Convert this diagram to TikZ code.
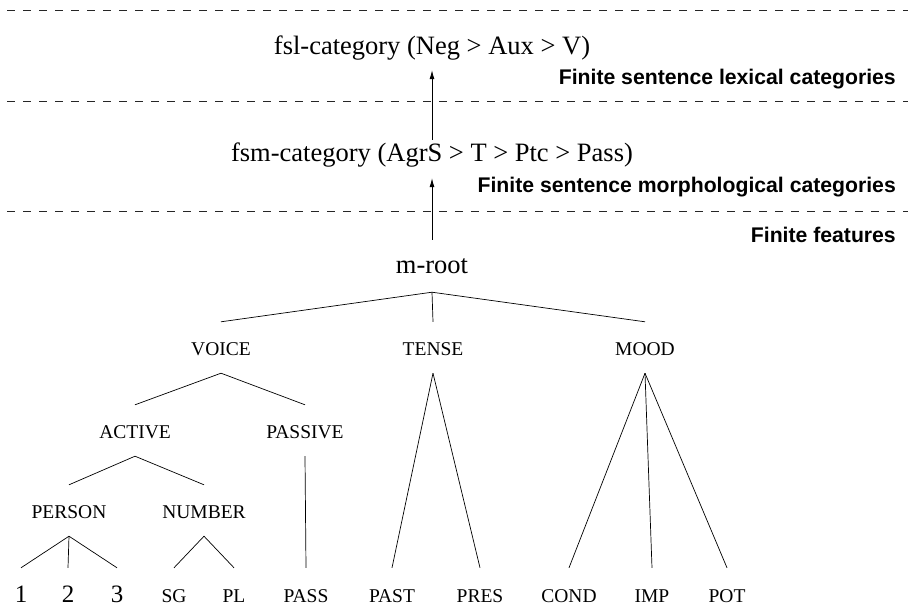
\documentclass[tikz,border=0pt]{standalone}
\usepackage{fontspec}
\setmainfont{Liberation Serif}
\newfontfamily\labsans{Liberation Sans}
\usetikzlibrary{arrows.meta}
\begin{document}
\begin{tikzpicture}[x=1pt,y=-1pt,
  every node/.style={inner sep=0pt, anchor=base},
  serif/.style={font=\fontsize{26.5}{30}\selectfont},
  lab/.style={font=\fontsize{19.5}{24}\selectfont, text height=33pt, text depth=18pt},
  leaf/.style={font=\fontsize{19.5}{24}\selectfont, text height=34pt, text depth=0pt},
  digit/.style={font=\fontsize{25}{30}\selectfont, text height=34pt, text depth=0pt},
  band/.style={font=\labsans\bfseries\fontsize{21.2}{25}\selectfont, anchor=base east},
  sep/.style={dash pattern=on 8pt off 8pt, dash phase=9pt, line width=0.8pt, black!85},
  edge/.style={line width=0.7pt},
  up/.style={-{Latex[length=9pt,width=5pt]}, line width=0.8pt}]
\useasboundingbox (0,0) rectangle (908,607);
% band separators
\draw[sep] (0,10) -- (908,10);
\draw[sep] (0,101) -- (908,101);
\draw[sep] (0,211) -- (908,211);
% band labels
\node[band] (b1) at (896,85) {Finite sentence lexical categories};
\node[band] (b2) at (896,193) {Finite sentence morphological categories};
\node[band] (b3) at (896,242) {Finite features};
% top nodes
\node[serif, text height=22pt, text depth=15pt] (fsl) at (432,55) {fsl-category (Neg > Aux > V)};
\node[serif, text height=22pt, text depth=16pt] (fsm) at (432,162) {fsm-category (AgrS > T > Ptc > Pass)};
\node[serif, text height=33pt, text depth=19pt] (mroot) at (432,273) {m-root};
\draw[up] (fsm.north) -- (fsl.south);
\draw[up] (mroot.north) -- (fsm.south);
% feature tree
\node[lab] (voice) at (221,355) {VOICE};
\node[lab] (tense) at (433,355) {TENSE};
\node[lab] (mood) at (645,355) {MOOD};
\node[lab] (active) at (135,438) {ACTIVE};
\node[lab] (passive) at (305,438) {PASSIVE};
\node[lab] (person) at (69,518) {PERSON};
\node[lab] (number) at (204,518) {NUMBER};
\node[digit] (l1) at (21,602) {1};
\node[digit] (l2) at (68,602) {2};
\node[digit] (l3) at (117,602) {3};
\node[leaf] (sg) at (174,602) {SG};
\node[leaf] (pl) at (234,602) {PL};
\node[leaf] (pass) at (306,602) {PASS};
\node[leaf] (past) at (392,602) {PAST};
\node[leaf] (pres) at (480,602) {PRES};
\node[leaf] (cond) at (569,602) {COND};
\node[leaf] (imp) at (652,602) {IMP};
\node[leaf] (pot) at (727,602) {POT};
\foreach \a/\b in {mroot/voice, mroot/tense, mroot/mood,
  voice/active, voice/passive, active/person, active/number,
  person/l1, person/l2, person/l3, number/sg, number/pl,
  passive/pass, tense/past, tense/pres, mood/cond, mood/imp, mood/pot}
  \draw[edge] (\a.south) -- (\b.north);
\end{tikzpicture}
\end{document}
